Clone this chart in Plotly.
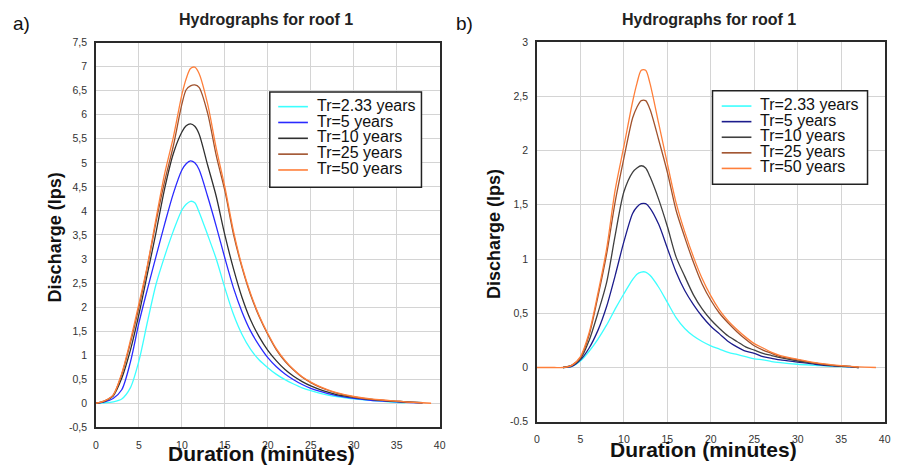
import plotly.graph_objects as go

# ---------------- data ----------------
SERIES = ["Tr=2.33 years", "Tr=5 years", "Tr=10 years", "Tr=25 years", "Tr=50 years"]

X_TICKS = [0, 5, 10, 15, 20, 25, 30, 35, 40]
X_TICKTEXT = ["0", "5", "10", "15", "20", "25", "30", "35", "40"]

LEFT_YTICKS = [-0.5, 0, 0.5, 1, 1.5, 2, 2.5, 3, 3.5, 4, 4.5, 5, 5.5, 6, 6.5, 7, 7.5]
LEFT_YTEXT = ["-0,5", "0", "0,5", "1", "1,5", "2", "2,5", "3", "3,5", "4", "4,5",
              "5", "5,5", "6", "6,5", "7", "7,5"]
RIGHT_YTICKS = [-0.5, 0, 0.5, 1, 1.5, 2, 2.5, 3]
RIGHT_YTEXT = ["-0.5", "0", "0,5", "1", "1,5", "2", "2,5", "3"]

# panel a) time (minutes)
LT = [0, 1, 2, 3, 4, 5, 6, 7, 8, 9, 10, 10.5, 11, 11.5, 12, 13, 14, 15, 16, 17, 18, 19,
      20, 21, 22, 23, 24, 25, 26, 27, 28, 30, 32, 34, 36, 38, 39]
L_TR233 = [0, 0.01, 0.03, 0.09, 0.32, 0.88, 1.7, 2.48, 3.06, 3.58, 4.02, 4.14, 4.2, 4.17,
           3.98, 3.5, 3.0, 2.4, 1.85, 1.43, 1.12, 0.9, 0.74, 0.6, 0.49, 0.4, 0.32, 0.26,
           0.21, 0.17, 0.14, 0.09, 0.06, 0.03, 0.01, None, None]
L_TR5 = [0, 0.03, 0.1, 0.28, 0.85, 1.67, 2.38, 3.06, 3.73, 4.36, 4.85, 4.98, 5.04, 5.0,
         4.86, 4.3, 3.68, 3.02, 2.4, 1.9, 1.5, 1.2, 0.95, 0.76, 0.61, 0.49, 0.39, 0.31,
         0.25, 0.2, 0.16, 0.1, 0.06, 0.04, 0.02, 0.01, None]
L_TR10 = [0, 0.04, 0.15, 0.52, 1.1, 1.85, 2.7, 3.56, 4.47, 5.19, 5.64, 5.77, 5.81, 5.76,
          5.6, 4.95, 4.3, 3.5, 2.8, 2.2, 1.73, 1.38, 1.1, 0.88, 0.7, 0.56, 0.45, 0.36,
          0.29, 0.23, 0.18, 0.12, 0.08, 0.05, 0.03, 0.01, None]
L_TR25 = [0, 0.05, 0.17, 0.6, 1.25, 2.0, 2.85, 3.78, 4.62, 5.35, 6.22, 6.52, 6.6, 6.62,
          6.57, 6.03, 5.15, 4.42, 3.52, 2.82, 2.25, 1.8, 1.43, 1.11, 0.87, 0.69, 0.54,
          0.43, 0.34, 0.27, 0.21, 0.13, 0.08, 0.05, 0.03, 0.01, None]
L_TR50 = [0, 0.05, 0.17, 0.62, 1.3, 2.07, 2.88, 3.85, 4.78, 5.53, 6.42, 6.75, 6.96, 6.99,
          6.86, 6.22, 5.3, 4.5, 3.58, 2.85, 2.28, 1.82, 1.45, 1.13, 0.89, 0.7, 0.55, 0.44,
          0.35, 0.28, 0.22, 0.14, 0.09, 0.06, 0.03, 0.01, 0]

# panel b) time (minutes)
RT = [0, 1, 2, 3, 4, 5, 6, 7, 8, 9, 10, 11, 11.5, 12, 12.5, 13, 14, 15, 16, 17, 18, 19,
      20, 21, 22, 23, 24, 25, 26, 27, 28, 30, 32, 34, 36, 37, 39]
R_TR233 = [None, None, None, 0, 0.01, 0.06, 0.15, 0.26, 0.39, 0.54, 0.68, 0.81, 0.86,
           0.88, 0.88, 0.85, 0.74, 0.6, 0.46, 0.36, 0.29, 0.24, 0.2, 0.17, 0.14, 0.12,
           0.1, 0.08, 0.07, 0.055, 0.045, 0.03, 0.02, 0.01, 0.005, 0, None]
R_TR5 = [None, None, None, 0, 0.01, 0.07, 0.18, 0.34, 0.56, 0.85, 1.16, 1.42, 1.48, 1.51,
         1.51, 1.47, 1.32, 1.1, 0.88, 0.71, 0.58, 0.47, 0.38, 0.31, 0.24, 0.19, 0.15,
         0.13, 0.1, 0.085, 0.07, 0.05, 0.03, 0.015, 0.005, 0, None]
R_TR10 = [None, None, None, 0, 0.02, 0.08, 0.25, 0.5, 0.78, 1.22, 1.62, 1.8, 1.84, 1.86,
          1.84, 1.76, 1.55, 1.3, 1.02, 0.84, 0.67, 0.54, 0.44, 0.36, 0.29, 0.24, 0.19,
          0.16, 0.13, 0.11, 0.09, 0.06, 0.04, 0.02, 0.01, 0, None]
R_TR25 = [None, None, None, 0, 0.02, 0.09, 0.3, 0.65, 1.04, 1.53, 1.93, 2.3, 2.4, 2.46,
          2.46, 2.38, 2.1, 1.8, 1.45, 1.2, 0.97, 0.77, 0.62, 0.5, 0.41, 0.33, 0.26, 0.2,
          0.16, 0.13, 0.1, 0.07, 0.04, 0.02, 0.01, 0, None]
R_TR50 = [0, 0, 0, 0, 0.02, 0.1, 0.32, 0.68, 1.09, 1.64, 2.04, 2.45, 2.62, 2.74, 2.74,
          2.62, 2.25, 1.88, 1.52, 1.25, 1.02, 0.82, 0.66, 0.53, 0.43, 0.35, 0.28, 0.22,
          0.18, 0.14, 0.11, 0.075, 0.045, 0.025, 0.01, 0.005, 0]

LEFT_VALUES = [L_TR233, L_TR5, L_TR10, L_TR25, L_TR50]
RIGHT_VALUES = [R_TR233, R_TR5, R_TR10, R_TR25, R_TR50]

LEFT_COLORS = ["#3CFFFF", "#2A2AFF", "#303030", "#A0522D", "#FF7F3A"]
RIGHT_COLORS = ["#3CFFFF", "#1C1C8C", "#404040", "#A0522D", "#FF7F3A"]

# ---------------- figure ----------------
W, H = 897, 467
FONT = "Arial, 'Liberation Sans', sans-serif"


def fx(p):
    return p / W


def fy(p):
    return 1 - p / H


fig = go.Figure()
for name, col, vals in zip(SERIES, LEFT_COLORS, LEFT_VALUES):
    fig.add_trace(go.Scatter(x=LT, y=vals, mode="lines", name=name,
                             line=dict(color=col, width=1.3, shape="spline", smoothing=0.8),
                             xaxis="x", yaxis="y", showlegend=False))
for name, col, vals in zip(SERIES, RIGHT_COLORS, RIGHT_VALUES):
    fig.add_trace(go.Scatter(x=RT, y=vals, mode="lines", name=name,
                             line=dict(color=col, width=1.3, shape="spline", smoothing=0.8),
                             xaxis="x2", yaxis="y2", showlegend=False))

axis_common = dict(showgrid=True, gridcolor="#D4D4D4", gridwidth=1.3, zeroline=False,
                   showline=True, mirror=True, linecolor="#2A2A2A", linewidth=1.6,
                   ticks="", tickfont=dict(family=FONT, size=10.5, color="#333333"),
                   tickmode="array")

fig.update_layout(
    width=W, height=H, autosize=False,
    margin=dict(l=0, r=0, t=0, b=0),
    paper_bgcolor="white", plot_bgcolor="white",
    xaxis=dict(axis_common, domain=[fx(93.9), fx(441.1)], range=[0, 40],
               tickvals=X_TICKS, ticktext=X_TICKTEXT, anchor="y", ticklabelstandoff=7),
    yaxis=dict(axis_common, domain=[fy(432.4), fy(37.6)], range=[-0.5, 7.5],
               tickvals=LEFT_YTICKS, ticktext=LEFT_YTEXT, anchor="x", ticklabelstandoff=5),
    xaxis2=dict(axis_common, domain=[fx(539.4), fx(890.6)], range=[0, 40],
                tickvals=X_TICKS, ticktext=X_TICKTEXT, anchor="y2", ticklabelstandoff=7),
    yaxis2=dict(axis_common, domain=[fy(426.7), fy(37.05)], range=[-0.5, 3],
                tickvals=RIGHT_YTICKS, ticktext=RIGHT_YTEXT, anchor="x2", ticklabelstandoff=5),
)

annotations = []
shapes = []


def text(x, y, s, size, bold=False, angle=0, xanchor="center", color="#111111"):
    annotations.append(dict(x=fx(x), y=fy(y), xref="paper", yref="paper",
                            text=("<b>%s</b>" % s) if bold else s, showarrow=False,
                            textangle=angle, xanchor=xanchor, yanchor="middle",
                            font=dict(family=FONT, size=size, color=color)))


# panel labels, titles, axis titles
text(8, 18, "a)", 19, xanchor="left")
text(456, 18, "b)", 19, xanchor="left")
text(266, 14, "Hydrographs for roof 1", 16, bold=True, color="#222222")
text(713, 14, "Hydrographs for roof 1", 16, bold=True, color="#222222")
text(261, 459, "Duration (minutes)", 21, bold=True)
text(708, 455, "Duration (minutes)", 21, bold=True)
text(52, 237, "Discharge (lps)", 18, bold=True, angle=-90)
text(496, 234, "Discharge (lps)", 18, bold=True, angle=-90)


# custom legends (boxes)
def legend(x0, x1, y0, y1, lx0, lx1, tx, ry0, dy, colors):
    shapes.append(dict(type="rect", xref="paper", yref="paper", x0=fx(x0), x1=fx(x1),
                       y0=fy(y1), y1=fy(y0), line=dict(color="#222222", width=1.5),
                       fillcolor="white", layer="above"))
    for i, (name, col) in enumerate(zip(SERIES, colors)):
        yy = ry0 + i * dy
        shapes.append(dict(type="line", xref="paper", yref="paper", x0=fx(lx0), x1=fx(lx1),
                           y0=fy(yy), y1=fy(yy), line=dict(color=col, width=1.6),
                           layer="above"))
        text(tx, yy - 1.5, name, 16, xanchor="left", color="#111111")


legend(269.5, 422.7, 88.3, 186, 278, 308, 315, 103.3, 16.25, LEFT_COLORS)
legend(716.7, 873.3, 87, 183, 726, 756, 763, 102.7, 16.0, RIGHT_COLORS)

fig.update_layout(annotations=annotations, shapes=shapes)
fig.write_html("out.html")
